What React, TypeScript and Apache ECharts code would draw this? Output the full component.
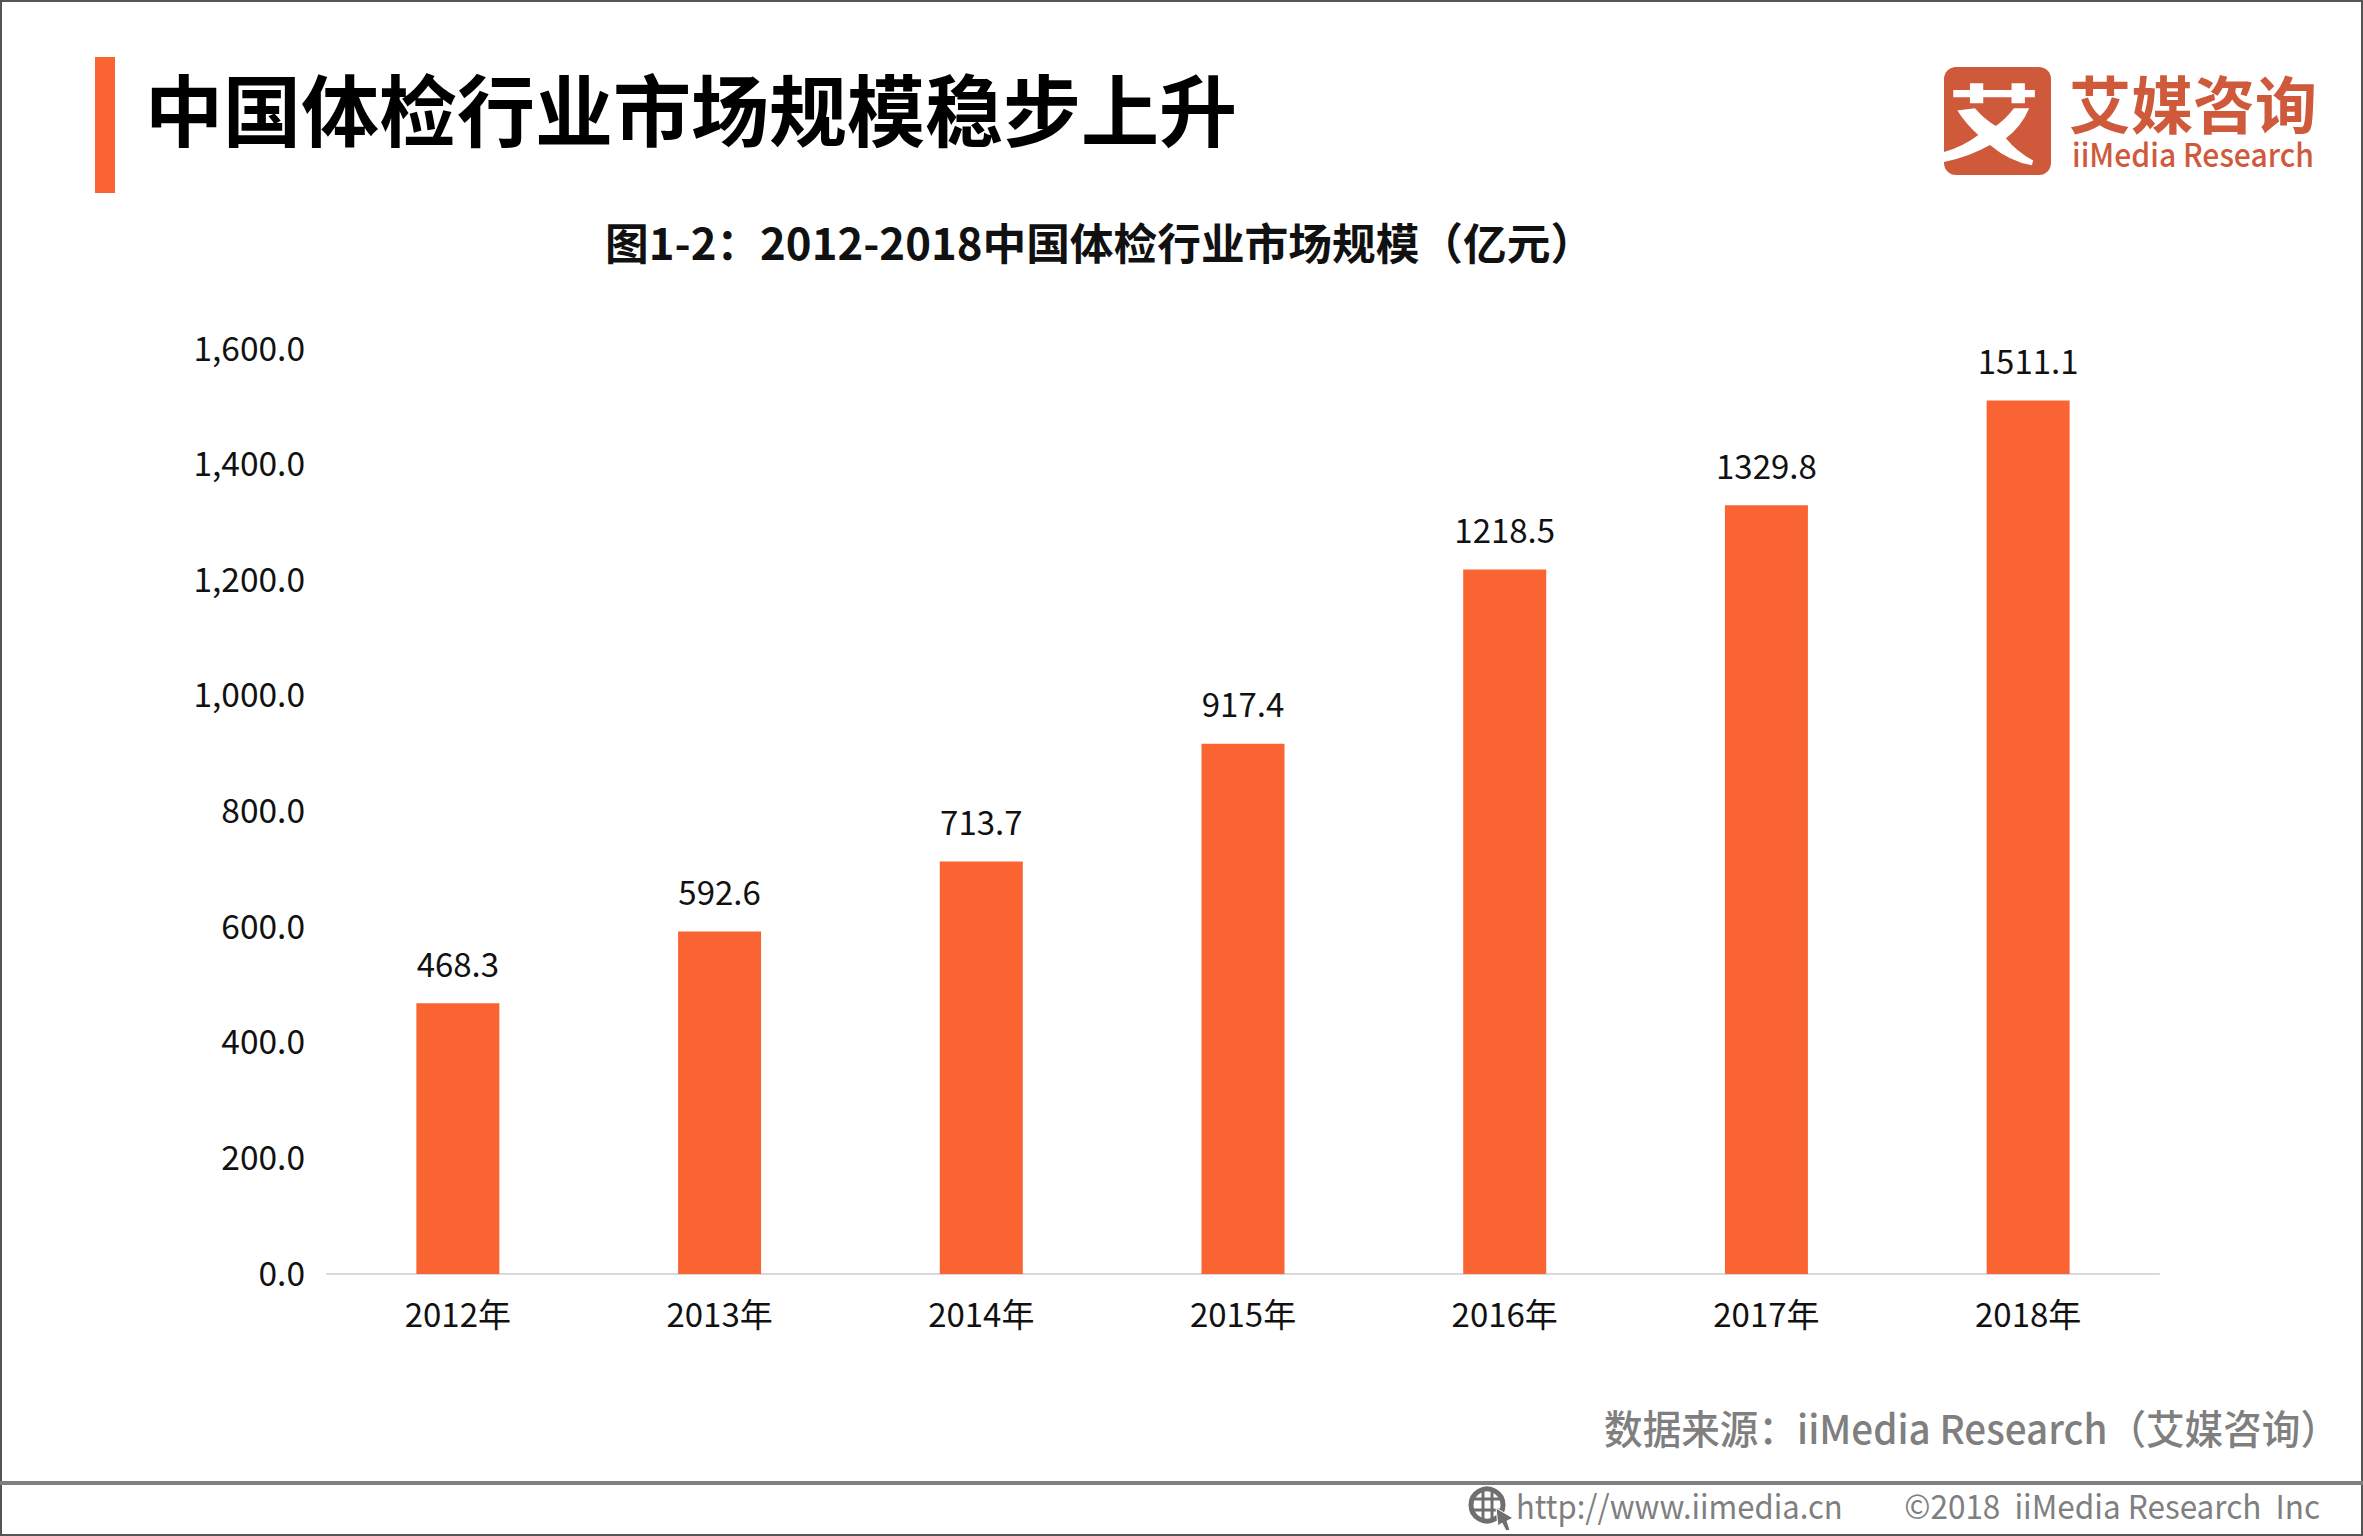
import React, { useEffect, useRef } from "react";
import * as echarts from "echarts";

const categories = ["2012年", "2013年", "2014年", "2015年", "2016年", "2017年", "2018年"];
const marketSize = [468.3, 592.6, 713.7, 917.4, 1218.5, 1329.8, 1511.1];
const mainTitle = "中国体检行业市场规模稳步上升";
const subTitle = "图1-2：2012-2018中国体检行业市场规模（亿元）";
const sourceText = "数据来源：iiMedia Research（艾媒咨询）";
const siteText = "http://www.iimedia.cn";
const copyrightText = "©2018  iiMedia Research  Inc";

const FONT = "'Noto Sans CJK SC', 'Noto Sans', sans-serif";
const ORANGE = "#fa6433";
const LOGO = "#cf5a3b";
const GRAY = "#7f7f7f";

echarts.graphic.registerShape(
  "aiGlyph",
  echarts.graphic.extendPath(
    "M160 150 L210 150 L210 130 L250 130 L250 150 L335 150 L335 130 L375 130 L375 150 L405 150 L405 172 L375 172 L375 190 L335 190 L335 172 L250 172 L250 190 L210 190 L210 172 L160 172 Z " +
      "M172 212 L225 205 Q255 240 288 258 Q320 235 342 205 L388 205 Q365 260 318 295 Q350 335 400 362 L396 376 Q330 365 270 315 Q210 350 132 366 L132 336 Q190 320 235 285 Q200 255 172 212 Z",
    {}
  )
);

function fmt(v: number) {
  return v.toLocaleString("en-US", { minimumFractionDigits: 1, maximumFractionDigits: 1 });
}

export default function App() {
  const ref = useRef<HTMLDivElement>(null);
  useEffect(() => {
    const chart = echarts.init(ref.current!, undefined, { renderer: "svg" });
    chart.setOption({
      animation: false,
      backgroundColor: "#fff",
      textStyle: { fontFamily: FONT },
      title: [
        { text: mainTitle, left: 140, top: 63, textStyle: { fontFamily: FONT, fontSize: 78, fontWeight: 700, color: "#000" } },
        { text: subTitle, left: 600, top: 214, textStyle: { fontFamily: FONT, fontSize: 43.7, fontWeight: 700, color: "#111" } },
      ],
      grid: { left: 327, right: 204, top: 349, bottom: 262, containLabel: false },
      xAxis: {
        type: "category",
        data: categories,
        axisLine: { lineStyle: { color: "#d9d9d9", width: 2 } },
        axisTick: { show: false },
        axisLabel: { fontFamily: FONT, fontSize: 33, color: "#111", margin: 22 },
      },
      yAxis: {
        type: "value",
        min: 0,
        max: 1600,
        interval: 200,
        axisLine: { show: false },
        axisTick: { show: false },
        splitLine: { show: false },
        axisLabel: {
          fontFamily: FONT,
          fontSize: 33.5,
          color: "#111",
          margin: 22,
          verticalAlign: "bottom",
          lineHeight: 6,
          formatter: (v: number) => fmt(v),
        },
      },
      series: [
        {
          type: "bar",
          data: marketSize,
          barWidth: 83,
          itemStyle: { color: ORANGE },
          label: {
            show: true,
            position: "top",
            distance: 24,
            fontFamily: FONT,
            fontSize: 33,
            color: "#111",
            formatter: (p: any) => p.value.toFixed(1),
          },
        },
      ],
      graphic: [
        { type: "rect", shape: { x: 1, y: 1, width: 2361, height: 1534 }, style: { fill: "none", stroke: "#555", lineWidth: 2 } },
        { type: "rect", shape: { x: 95, y: 57, width: 20, height: 136 }, style: { fill: ORANGE } },
        // logo
        { type: "rect", shape: { x: 1944, y: 67, width: 107, height: 108, r: 12 }, style: { fill: LOGO } },
        { type: "aiGlyph", x: 1900, y: 40, scaleX: 1 / 3, scaleY: 1 / 3, style: { fill: "#fff" } },
        { type: "text", x: 2069, y: 102, style: { text: "艾媒咨询", fontFamily: FONT, fontSize: 62, fontWeight: 700, fill: LOGO, verticalAlign: "middle" } },
        { type: "text", x: 2072, y: 153, scaleX: 0.94, style: { text: "iiMedia Research", fontFamily: FONT, fontSize: 32, fontWeight: 500, fill: LOGO, verticalAlign: "middle" } },
        // source
        { type: "text", x: 2339, y: 1426, scaleX: 0.965, style: { text: sourceText, fontFamily: FONT, fontSize: 40, fontWeight: 500, fill: GRAY, align: "right", verticalAlign: "middle" } },
        // footer rule
        { type: "rect", shape: { x: 0, y: 1481, width: 2363, height: 4 }, style: { fill: GRAY } },
        // globe icon
        { type: "circle", shape: { cx: 1487, cy: 1505, r: 16 }, style: { fill: "none", stroke: "#6f6f6f", lineWidth: 5 } },
        { type: "line", shape: { x1: 1472, y1: 1499, x2: 1502, y2: 1499 }, style: { stroke: "#6f6f6f", lineWidth: 3 } },
        { type: "line", shape: { x1: 1472, y1: 1510, x2: 1502, y2: 1510 }, style: { stroke: "#6f6f6f", lineWidth: 3 } },
        { type: "line", shape: { x1: 1483, y1: 1490, x2: 1483, y2: 1520 }, style: { stroke: "#6f6f6f", lineWidth: 3 } },
        { type: "line", shape: { x1: 1492, y1: 1490, x2: 1492, y2: 1520 }, style: { stroke: "#6f6f6f", lineWidth: 3 } },
        { type: "polygon", shape: { points: [[1496, 1508], [1513, 1518], [1507, 1521], [1510, 1530], [1506, 1531], [1502, 1523], [1498, 1526]] }, style: { fill: "#6f6f6f", stroke: "#fff", lineWidth: 1 } },
        // footer text
        { type: "text", x: 1516, y: 1505, scaleX: 0.94, style: { text: siteText, fontFamily: FONT, fontSize: 33, fill: GRAY, verticalAlign: "middle" } },
        { type: "text", x: 2320, y: 1505, scaleX: 0.955, style: { text: copyrightText, fontFamily: FONT, fontSize: 33, fill: GRAY, align: "right", verticalAlign: "middle" } },
      ],
    });
    return () => chart.dispose();
  }, []);
  return <div ref={ref} style={{ position: "fixed", left: 0, top: 0, width: 2363, height: 1536 }} />;
}
